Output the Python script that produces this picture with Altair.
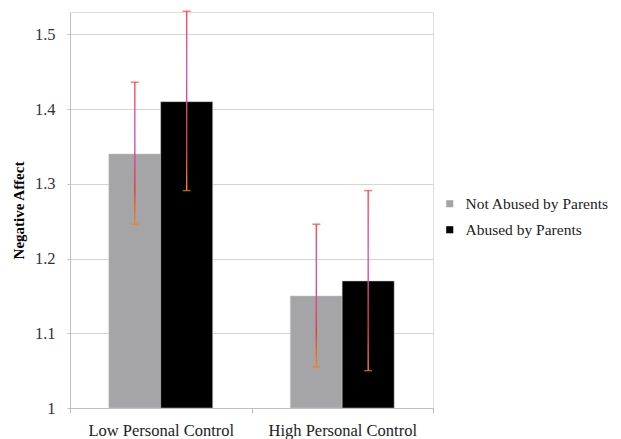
import altair as alt
import pandas as pd

conditions = ["Low Personal Control", "Low Personal Control", "High Personal Control", "High Personal Control"]
groups = ["Not Abused by Parents", "Abused by Parents", "Not Abused by Parents", "Abused by Parents"]
means = [1.34, 1.41, 1.15, 1.17]
upper = [1.436, 1.531, 1.246, 1.291]
lower = [1.246, 1.291, 1.055, 1.05]
baseline = [1.0, 1.0, 1.0, 1.0]

cond_order = ["Low Personal Control", "High Personal Control"]
group_order = ["Not Abused by Parents", "Abused by Parents"]

df = pd.DataFrame({"cond": conditions, "group": groups, "mean": means, "hi": upper,
                   "lo": lower, "base": baseline})

serif = "Liberation Serif, Times New Roman, serif"

x = alt.X("cond:N", sort=cond_order, title=None,
          scale=alt.Scale(paddingInner=0, paddingOuter=0),
          axis=alt.Axis(labelAngle=0, labelFont=serif, labelFontSize=16.5, labelColor="#222222",
                        labelPadding=9, tickBand="extent", tickColor="#bfbfbf", tickSize=5,
                        domainColor="#bfbfbf", grid=False))
xo = alt.XOffset("group:N", sort=group_order,
                 scale=alt.Scale(paddingInner=0, paddingOuter=0.75))
yscale = alt.Scale(domain=[1, 1.53], nice=False, zero=False)

bars = alt.Chart(df).mark_bar(size=52, stroke="#c8c8c8", strokeWidth=0.5).encode(
    x=x, xOffset=xo,
    y=alt.Y("mean:Q", scale=yscale, title="Negative Affect",
            axis=alt.Axis(values=[1, 1.1, 1.2, 1.3, 1.4, 1.5], format="~g",
                          labelFont=serif, labelFontSize=16.5, labelColor="#333333",
                          labelPadding=12, tickSize=3, tickColor="#bfbfbf",
                          domainColor="#bfbfbf", gridColor="#d4d4d4", gridWidth=1.2,
                          titleFont=serif, titleFontSize=15, titleFontWeight="bold",
                          titleColor="#000000", titleX=-44, titlePadding=10)),
    y2="base:Q",
    color=alt.Color("group:N", sort=group_order,
                    scale=alt.Scale(domain=group_order, range=["#a5a5a8", "#000000"]),
                    legend=alt.Legend(title=None, orient="none", legendX=372, legendY=184,
                                      symbolType="square", symbolSize=50, symbolStrokeWidth=0,
                                      labelFont=serif, labelFontSize=15.5, labelColor="#222222",
                                      labelLimit=300, rowPadding=9, labelOffset=8)),
)

grad = alt.Gradient(gradient="linear", x1=0, y1=0, x2=0, y2=1, stops=[
    alt.GradientStop(color="#ff4a4a", offset=0),
    alt.GradientStop(color="#cc55cc", offset=0.35),
    alt.GradientStop(color="#e03a3a", offset=0.75),
    alt.GradientStop(color="#f08a20", offset=1),
])

err = alt.Chart(df).mark_bar(size=1.4, fill=grad, stroke=None).encode(
    x=x, xOffset=xo,
    y=alt.Y("hi:Q", scale=yscale),
    y2="lo:Q",
)

cap_top = alt.Chart(df).mark_tick(color="#ff4040", thickness=1.5, size=8).encode(
    x=x, xOffset=xo, y=alt.Y("hi:Q", scale=yscale))
cap_bot = alt.Chart(df).mark_tick(color="#f08020", thickness=1.5, size=8).encode(
    x=x, xOffset=xo, y=alt.Y("lo:Q", scale=yscale))

chart = alt.layer(bars, err, cap_top, cap_bot).properties(
    width=363, height=396,
    autosize=alt.AutoSizeParams(type="none"),
    padding={"left": 62, "top": 4, "right": 180, "bottom": 31},
).configure_view(stroke=None).configure(background="white")

chart.save("out.html", embed_options={"renderer": "svg", "actions": False})
